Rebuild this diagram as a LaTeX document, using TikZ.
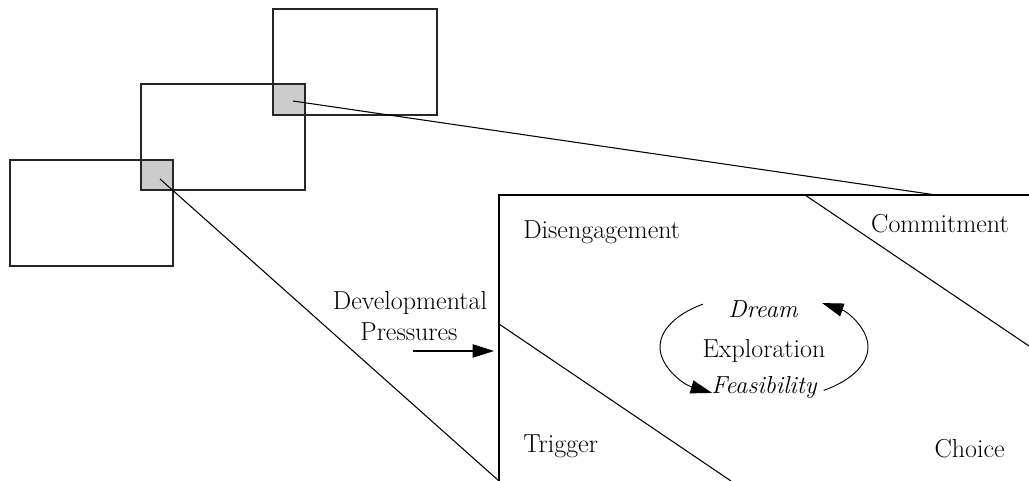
\documentclass[tikz,border=0pt]{standalone}
\usepackage{fontspec}
\usetikzlibrary{arrows.meta}
\begin{document}
\begin{tikzpicture}[x=0.75pt,y=-0.75pt,
  every node/.style={font=\fontsize{19.5}{23}\selectfont, inner sep=0pt},
  emph/.style={font=\fontsize{18.5}{21}\selectfont\itshape},
  boxline/.style={draw=black!85, line width=0.9pt},
  overlap/.style={fill=black!20},
  seg/.style={draw=black, line width=0.8pt},
  headed/.style={-{Triangle[length=16pt,width=10pt]}},
  txt/.style={anchor=base west},
]
\useasboundingbox (0,0) rectangle (1029,481);

% shaded overlaps of the stacked frames
\fill[overlap] (141,160) rectangle (173,190);
\fill[overlap] (273,84) rectangle (305,115);

% three stacked frames
\draw[boxline] (10,160) rectangle (173,266);
\draw[boxline] (141,84) rectangle (305,190);
\draw[boxline] (273,9) rectangle (437,115);

% anchor points
\coordinate (z1) at (160,179);
\coordinate (z2) at (293,101);
\coordinate (tl) at (499,195);
\coordinate (bl) at (499,481);
\coordinate (tr) at (1029,195);
\coordinate (hook) at (936,195);
\coordinate (ua) at (805,195);
\coordinate (ub) at (1029,346);
\coordinate (la) at (499,324);
\coordinate (lb) at (731,481);
\coordinate (pin) at (413,351);
\coordinate (pout) at (494,351);
\coordinate (cyc) at (764,347);

% enlarged phase panel
\draw[seg] (tr) -- (tl) -- (bl);
\draw[seg] (ua) -- (ub);
\draw[seg] (la) -- (lb);

% zoom lines from the overlaps
\draw[seg] (z1) -- (bl);
\draw[seg] (z2) -- (hook);

% labels
\node[txt] (dis) at (523,239) {Disengagement};
\node[anchor=base east] (com) at (1009,233) {Commitment};
\node[txt] (trg) at (523,452) {Trigger};
\node[anchor=base east] (cho) at (1005,457) {Choice};
\node[anchor=base] (dev) at (410,310) {Developmental};
\node[anchor=base] (pre) at (409,340) {Pressures};
\node[anchor=base, emph] (dream) at (763,317) {Dream};
\node[anchor=base] (expl) at (764,357) {Exploration};
\node[anchor=base, emph] (feas) at (764,393) {Feasibility};

% input arrow
\draw[seg, headed] (pin) -- (pout);

% exploration cycle
\draw[seg, line width=0.7pt, headed] (cyc) ++(126:78pt and 39.75pt)
  arc[start angle=126, end angle=240, x radius=78pt, y radius=39.75pt];
\draw[seg, line width=0.7pt, headed] (cyc) ++(-55:78pt and 39.75pt)
  arc[start angle=-55, end angle=56, x radius=78pt, y radius=39.75pt];
\end{tikzpicture}
\end{document}
